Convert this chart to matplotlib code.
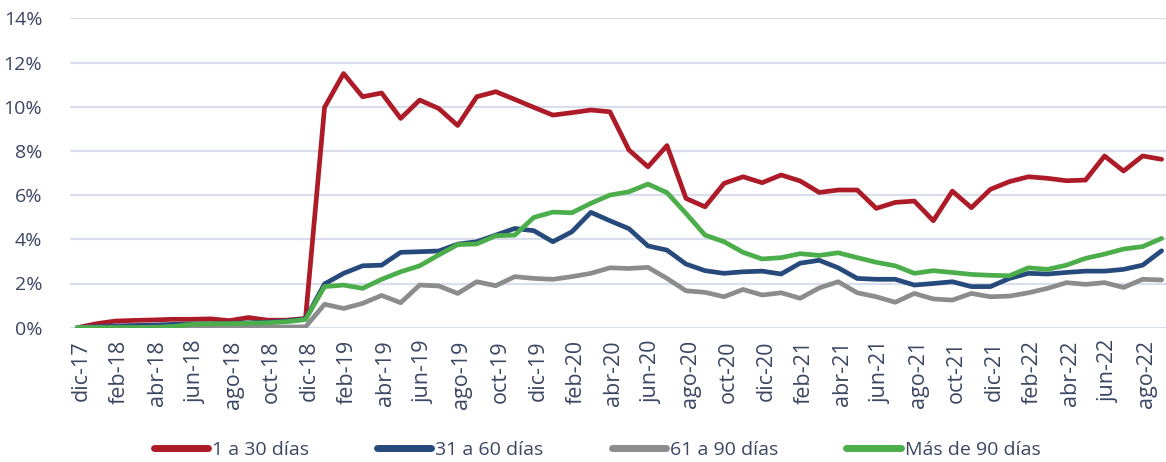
import matplotlib
matplotlib.use("Agg")
import matplotlib.pyplot as plt
from matplotlib.ticker import FuncFormatter, MultipleLocator
from matplotlib.transforms import ScaledTranslation

plt.rcParams['font.family'] = ['Open Sans', 'DejaVu Sans']

months = [
    "dic-17", "ene-18", "feb-18", "mar-18", "abr-18", "may-18", "jun-18", "jul-18", "ago-18", "sep-18", "oct-18", "nov-18",
    "dic-18", "ene-19", "feb-19", "mar-19", "abr-19", "may-19", "jun-19", "jul-19", "ago-19", "sep-19", "oct-19", "nov-19",
    "dic-19", "ene-20", "feb-20", "mar-20", "abr-20", "may-20", "jun-20", "jul-20", "ago-20", "sep-20", "oct-20", "nov-20",
    "dic-20", "ene-21", "feb-21", "mar-21", "abr-21", "may-21", "jun-21", "jul-21", "ago-21", "sep-21", "oct-21", "nov-21",
    "dic-21", "ene-22", "feb-22", "mar-22", "abr-22", "may-22", "jun-22", "jul-22", "ago-22", "sep-22",
]

d1_30 = [
    0.0, 0.18, 0.30, 0.33, 0.35, 0.38, 0.38, 0.40, 0.32, 0.46, 0.34, 0.34, 0.42,
    9.97, 11.50, 10.45, 10.62, 9.47, 10.30, 9.92, 9.15,
    10.45, 10.68, 10.33, 9.97, 9.62, 9.73, 9.85, 9.77, 8.04, 7.28, 8.24,
    5.85, 5.47, 6.53, 6.83, 6.56, 6.91, 6.64, 6.12,
    6.23, 6.23, 5.40, 5.67, 5.73, 4.84, 6.18, 5.43, 6.26, 6.61, 6.83,
    6.76, 6.65, 6.68, 7.77, 7.09, 7.77, 7.62,
]

d31_60 = [
    0.0, 0.05, 0.08, 0.10, 0.12, 0.15, 0.17, 0.18, 0.20, 0.22, 0.25, 0.30, 0.40,
    1.98, 2.46, 2.80, 2.83, 3.41, 3.44, 3.47, 3.78,
    3.89, 4.19, 4.49, 4.39, 3.89, 4.34, 5.22, 4.84, 4.48, 3.70, 3.51,
    2.88, 2.58, 2.46, 2.53, 2.56, 2.43, 2.92, 3.05,
    2.71, 2.23, 2.19, 2.19, 1.93, 2.00, 2.08, 1.86, 1.86, 2.23, 2.46,
    2.43, 2.50, 2.56, 2.56, 2.64, 2.83, 3.48,
]

d61_90 = [
    0.0, 0.0, 0.0, 0.0, 0.02, 0.03, 0.02, 0.02, 0.02, 0.03, 0.03, 0.03, 0.04,
    1.06, 0.87, 1.10, 1.46, 1.13, 1.93, 1.89, 1.55,
    2.08, 1.90, 2.31, 2.23, 2.19, 2.31, 2.46, 2.71, 2.68, 2.73, 2.23,
    1.67, 1.60, 1.40, 1.73, 1.48, 1.58, 1.33, 1.80,
    2.08, 1.58, 1.40, 1.15, 1.55, 1.30, 1.25, 1.55, 1.40, 1.43, 1.58,
    1.78, 2.04, 1.96, 2.04, 1.82, 2.19, 2.16,
]

d90_mas = [
    0.0, 0.0, 0.0, 0.0, 0.0, 0.05, 0.15, 0.18, 0.18, 0.20, 0.22, 0.27, 0.37,
    1.86, 1.93, 1.78, 2.19, 2.53, 2.80, 3.29, 3.76,
    3.79, 4.16, 4.19, 4.99, 5.23, 5.20, 5.63, 6.00, 6.15, 6.50, 6.11,
    5.17, 4.19, 3.89, 3.41, 3.11, 3.17, 3.35, 3.27,
    3.39, 3.17, 2.96, 2.80, 2.46, 2.58, 2.50, 2.41, 2.37, 2.35, 2.71,
    2.64, 2.83, 3.14, 3.33, 3.56, 3.67, 4.04,
]

series_names = ["1 a 30 días", "31 a 60 días", "61 a 90 días", "Más de 90 días"]
series_values = [d1_30, d31_60, d61_90, d90_mas]
colors = ["#AE1B28", "#274A7C", "#8C8C8C", "#4BAE4A"]

text_color = "#3B4662"
grid_color = "#DADDEC"

fig = plt.figure(figsize=(11.66, 4.62), dpi=100)
ax = fig.add_axes([70 / 1166, 1 - 327.7 / 462, 1096 / 1166, (327.7 - 18.3) / 462])

x = list(range(len(months)))
for i, (name, vals, c) in enumerate(zip(series_names, series_values, colors)):
    ax.plot(x, vals, color=c, lw=3.4, label=name, solid_joinstyle="round",
            solid_capstyle="round", zorder=3 + i)

ax.set_ylim(0, 14)
ax.set_xlim(-0.38, len(months) - 1 + 0.23)
ax.yaxis.set_major_locator(MultipleLocator(2))
ax.yaxis.set_major_formatter(FuncFormatter(lambda v, p: f"{v:.0f}%"))
ax.set_xticks(x[::2])
ax.set_xticklabels(months[::2], rotation=90)
ax.grid(axis="y", color=grid_color, lw=1.6)
ax.set_axisbelow(True)
for s in ax.spines.values():
    s.set_visible(False)
ax.tick_params(axis="y", length=0, colors=text_color, labelsize=14, pad=20)
ax.tick_params(axis="x", length=0, colors=text_color, labelsize=15.5, pad=9)
offset = ScaledTranslation(4 / 100, 0, fig.dpi_scale_trans)
for lab in ax.get_xticklabels():
    lab.set_color(text_color)
    lab.set_transform(lab.get_transform() + offset)
for lab in ax.get_yticklabels():
    lab.set_color(text_color)

leg = fig.legend(*ax.get_legend_handles_labels(), loc="center", bbox_to_anchor=(0.512, 0.027),
                 ncol=4, frameon=False, fontsize=14, handlelength=2.8, handletextpad=0.2,
                 columnspacing=3.5, labelcolor=text_color)
for h in leg.get_lines():
    h.set_linewidth(5)
    h.set_solid_capstyle("round")

fig.savefig("out.png", dpi=100)
